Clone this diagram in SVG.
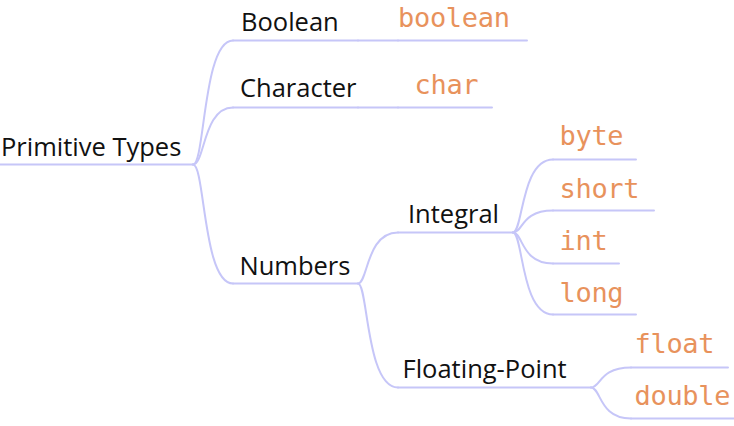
<svg xmlns="http://www.w3.org/2000/svg" width="734" height="426" viewBox="0 0 734 426">
<style>
  .ln { fill: none; stroke: #c6c6f8; stroke-width: 2; stroke-linecap: round; }
  .t { font-family: "Open Sans", "Noto Sans", "DejaVu Sans", sans-serif; font-size: 25.5px; fill: #111111; }
  .c { font-family: "DejaVu Sans Mono", "Liberation Mono", monospace; font-size: 27px; letter-spacing: -0.3px; fill: #e8925c; }
</style>
<rect width="734" height="426" fill="#ffffff"/>
<g id="connectors">
  <path class="ln" d="M193,164.5 C205,164.5 203,40.5 233,40.5"/>
  <path class="ln" d="M193,164.5 C205,164.5 203,107.5 233,107.5"/>
  <path class="ln" d="M193,164.5 C205,164.5 203,283.5 233,283.5"/>
  <path class="ln" d="M358,40.5 L398,40.5"/>
  <path class="ln" d="M358,107.5 L398,107.5"/>
  <path class="ln" d="M358,283.5 C368,283.5 366,232.5 398,232.5"/>
  <path class="ln" d="M358,283.5 C368,283.5 366,387.5 398,387.5"/>
  <path class="ln" d="M513,232.5 C523,232.5 521,159.5 553,159.5"/>
  <path class="ln" d="M513,232.5 C523,232.5 521,210.5 553,210.5"/>
  <path class="ln" d="M513,232.5 C523,232.5 521,263.5 553,263.5"/>
  <path class="ln" d="M513,232.5 C523,232.5 521,314.5 553,314.5"/>
  <path class="ln" d="M591,387.5 C601,387.5 599,367.5 631,367.5"/>
  <path class="ln" d="M591,387.5 C601,387.5 599,418.5 631,418.5"/>
</g>
<g id="node-root">
  <line class="ln" x1="0" y1="164.5" x2="193" y2="164.5"/>
  <text class="t" x="1" y="156.3">Primitive Types</text>
</g>
<g id="node-boolean-cat">
  <line class="ln" x1="233" y1="40.5" x2="358" y2="40.5"/>
  <text class="t" x="241" y="31">Boolean</text>
</g>
<g id="node-boolean">
  <line class="ln" x1="398" y1="40.5" x2="527" y2="40.5"/>
  <text class="c" x="398" y="27.3">boolean</text>
</g>
<g id="node-character">
  <line class="ln" x1="233" y1="107.5" x2="358" y2="107.5"/>
  <text class="t" x="240" y="96.7">Character</text>
</g>
<g id="node-char">
  <line class="ln" x1="398" y1="107.5" x2="492" y2="107.5"/>
  <text class="c" x="414.5" y="94">char</text>
</g>
<g id="node-numbers">
  <line class="ln" x1="233" y1="283.5" x2="358" y2="283.5"/>
  <text class="t" x="239.5" y="274.7">Numbers</text>
</g>
<g id="node-integral">
  <line class="ln" x1="398" y1="232.5" x2="513" y2="232.5"/>
  <text class="t" x="408" y="222.7">Integral</text>
</g>
<g id="node-floating">
  <line class="ln" x1="398" y1="387.5" x2="591" y2="387.5"/>
  <text class="t" x="402.5" y="378">Floating-Point</text>
</g>
<g id="node-byte">
  <line class="ln" x1="553" y1="159.5" x2="636" y2="159.5"/>
  <text class="c" x="559.5" y="145">byte</text>
</g>
<g id="node-short">
  <line class="ln" x1="553" y1="210.5" x2="654" y2="210.5"/>
  <text class="c" x="559.5" y="198.3">short</text>
</g>
<g id="node-int">
  <line class="ln" x1="553" y1="263.5" x2="619" y2="263.5"/>
  <text class="c" x="559.5" y="250">int</text>
</g>
<g id="node-long">
  <line class="ln" x1="553" y1="314.5" x2="636" y2="314.5"/>
  <text class="c" x="559.5" y="302.3">long</text>
</g>
<g id="node-float">
  <line class="ln" x1="631" y1="367.5" x2="728" y2="367.5"/>
  <text class="c" x="634.5" y="353.3">float</text>
</g>
<g id="node-double">
  <line class="ln" x1="631" y1="418.5" x2="734" y2="418.5"/>
  <text class="c" x="634.5" y="405">double</text>
</g>
</svg>
